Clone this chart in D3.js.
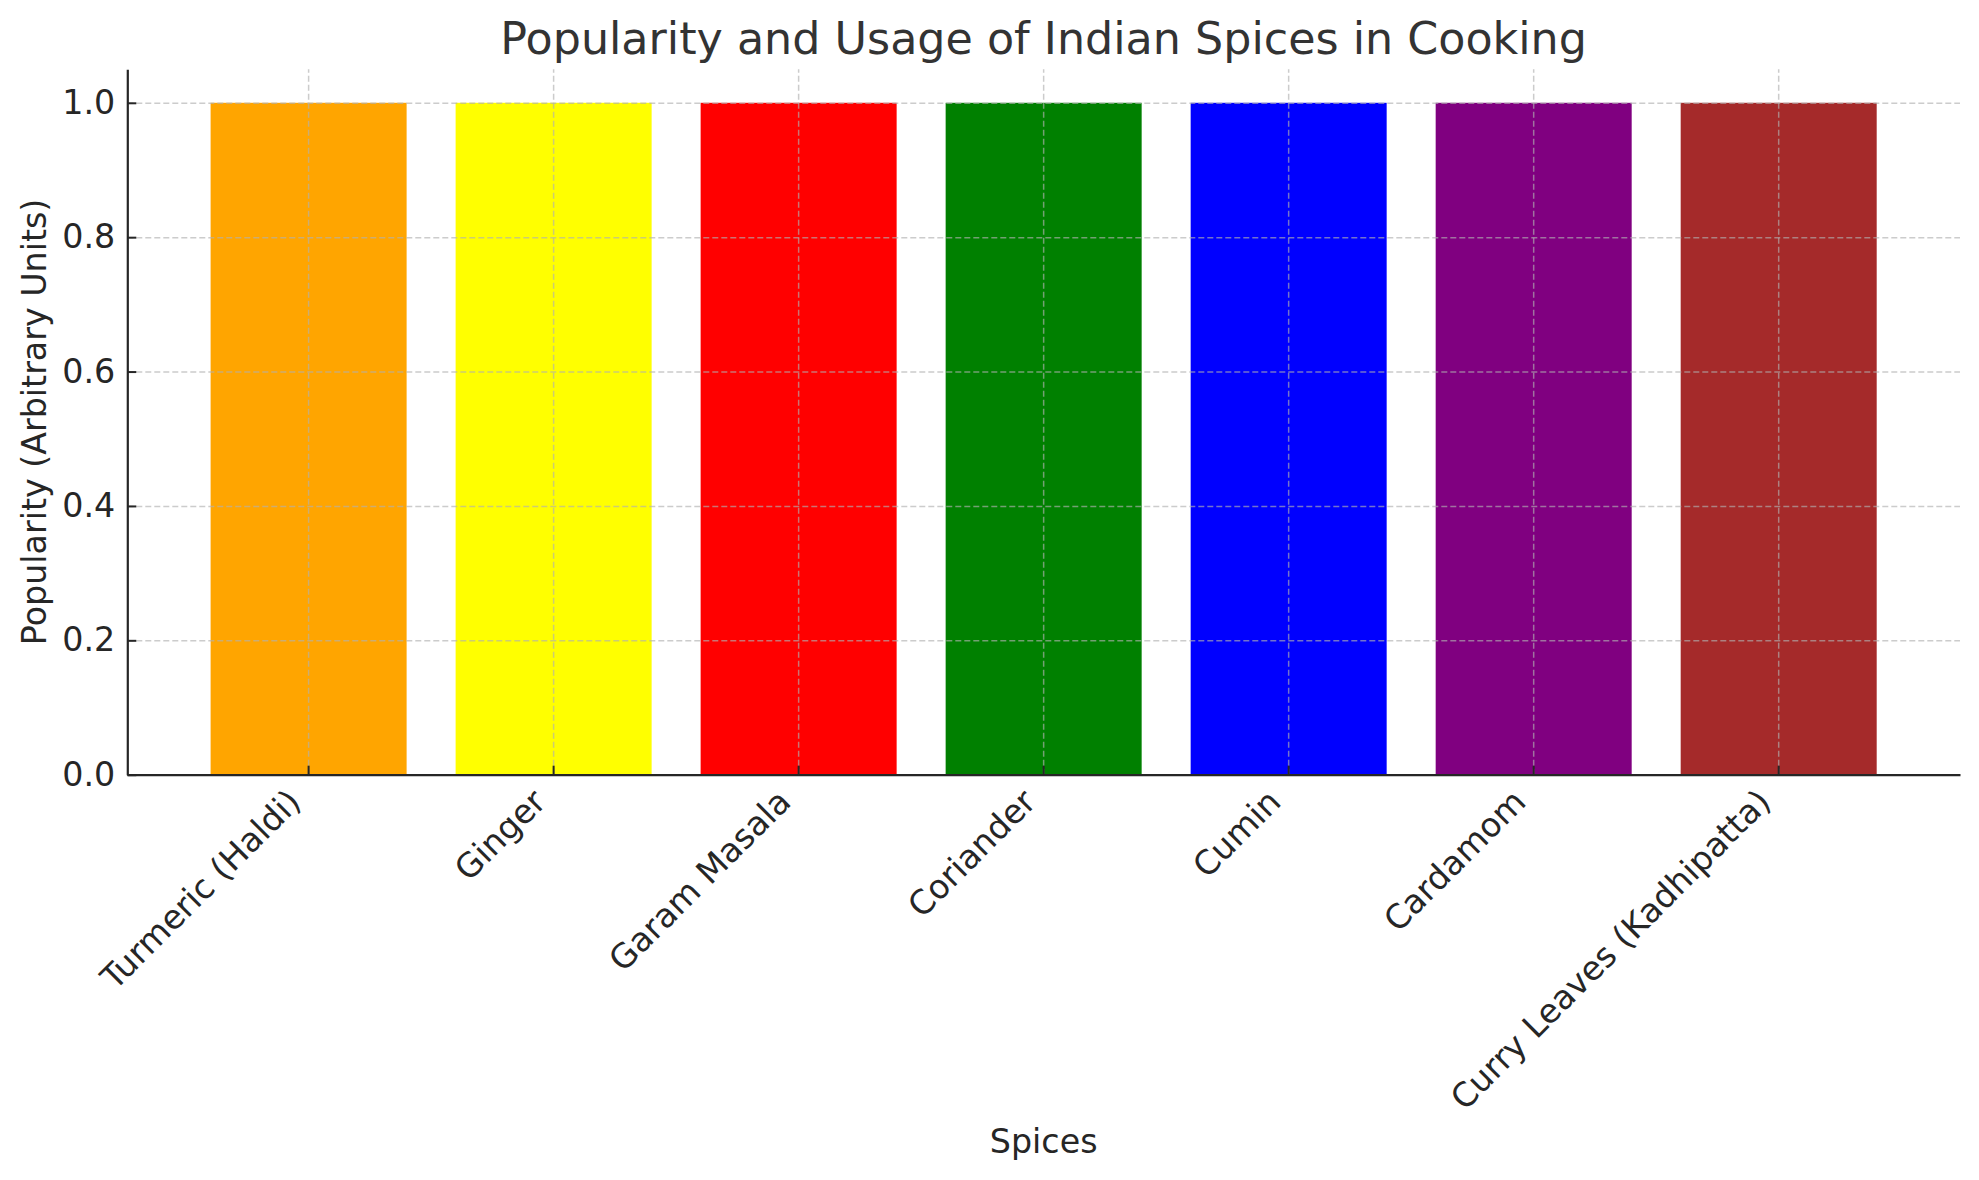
<!DOCTYPE html>
<html lang="en">
  <head>
    <meta charset="utf-8">
    <title>Indian Spices</title>
    <script src="https://cdn.jsdelivr.net/npm/d3@7"></script>
    <style>
      body { margin: 0; background: white; }
      text { font-family: "DejaVu Sans", sans-serif; }
    </style>
  </head>

  <body>
    <div id="container"></div>

<script>
    const spices = ["Turmeric (Haldi)", "Ginger", "Garam Masala", "Coriander", "Cumin", "Cardamom", "Curry Leaves (Kadhipatta)"];
    const popularity = [1, 1, 1, 1, 1, 1, 1];
    const barColors = ["orange", "yellow", "red", "green", "blue", "purple", "brown"];
    const yTicks = [0, 0.2, 0.4, 0.6, 0.8, 1.0];

    const W = 1979, H = 1180;
    const plot = {left: 127.3, right: 1960, top: 69.2, bottom: 774.7};

    const svg = d3.select("#container").append("svg")
      .attr("width", W)
      .attr("height", H);

    const x = d3.scaleBand()
      .domain(spices)
      .range([plot.left, plot.right])
      .paddingInner(0.2)
      .paddingOuter(0.34);

    const y = d3.scaleLinear()
      .domain([0, 1.05])
      .range([plot.bottom, plot.top]);

    // bars
    svg.append("g")
      .selectAll("rect")
      .data(spices)
      .enter()
      .append("rect")
        .attr("x", (d) => x(d))
        .attr("y", (d, i) => y(popularity[i]))
        .attr("width", x.bandwidth())
        .attr("height", (d, i) => y(0) - y(popularity[i]))
        .attr("fill", (d, i) => barColors[i]);

    // dashed grid on top of the bars
    const gridStyle = (g) => {
      g.select(".domain").remove();
      g.selectAll("line")
        .attr("stroke", "#b0b0b0")
        .attr("stroke-opacity", 0.65)
        .attr("stroke-width", 1.5)
        .attr("stroke-dasharray", "6,3");
      g.selectAll("text").remove();
    };
    svg.append("g")
      .attr("transform", `translate(0, ${plot.bottom})`)
      .call(d3.axisBottom(x).tickSize(-(plot.bottom - plot.top)).tickFormat(""))
      .call(gridStyle);
    svg.append("g")
      .attr("transform", `translate(${plot.left}, 0)`)
      .call(d3.axisLeft(y).tickValues(yTicks).tickSize(-(plot.right - plot.left)).tickFormat(""))
      .call(gridStyle);

    // axes, ticks pointing inward
    const xAxis = svg.append("g")
      .attr("transform", `translate(0, ${plot.bottom})`)
      .call(d3.axisBottom(x).tickSize(-9).tickSizeOuter(0));
    xAxis.selectAll("text")
      .attr("x", null).attr("y", null).attr("dy", null)
      .attr("text-anchor", "end")
      .attr("transform", "translate(-6, 29) rotate(-45)")
      .style("font-size", "33.3px")
      .attr("fill", "#262626");

    const yAxis = svg.append("g")
      .attr("transform", `translate(${plot.left}, 0)`)
      .call(d3.axisLeft(y).tickValues(yTicks).tickFormat(d3.format(".1f")).tickSize(-9).tickSizeOuter(0).tickPadding(12));
    yAxis.selectAll("text")
      .style("font-size", "33.3px")
      .attr("fill", "#262626");

    [xAxis, yAxis].forEach((g) => {
      g.attr("font-family", null).attr("font-size", null);
      g.select(".domain").attr("stroke", "#262626").attr("stroke-width", 2.2);
      g.selectAll(".tick line").attr("stroke", "#262626").attr("stroke-width", 2);
    });

    // titles
    svg.append("text")
      .attr("x", (plot.left + plot.right) / 2)
      .attr("y", 54)
      .attr("text-anchor", "middle")
      .style("font-size", "44.4px")
      .attr("fill", "#333333")
      .text("Popularity and Usage of Indian Spices in Cooking");

    svg.append("text")
      .attr("x", (plot.left + plot.right) / 2)
      .attr("y", 1152.7)
      .attr("text-anchor", "middle")
      .style("font-size", "33.3px")
      .attr("fill", "#262626")
      .text("Spices");

    svg.append("text")
      .attr("transform", `translate(46, ${(plot.top + plot.bottom) / 2}) rotate(-90)`)
      .attr("text-anchor", "middle")
      .style("font-size", "33.3px")
      .attr("fill", "#262626")
      .text("Popularity (Arbitrary Units)");
</script>
  </body>
</html>
